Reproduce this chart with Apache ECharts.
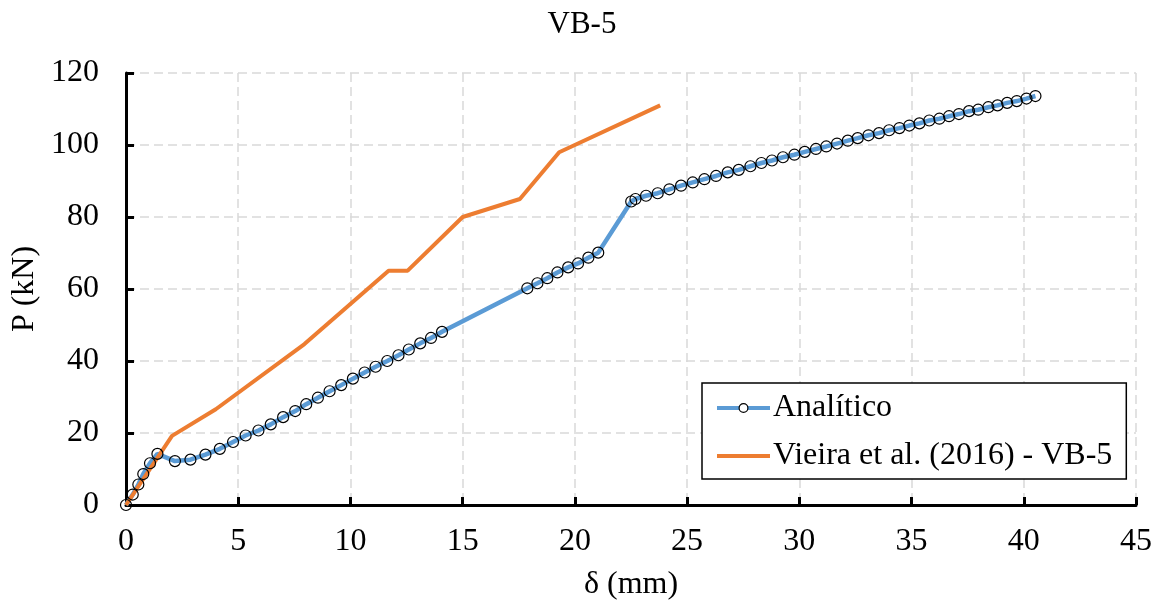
<!DOCTYPE html>
<html>
<head>
<meta charset="utf-8">
<title>VB-5</title>
<script src="https://cdn.jsdelivr.net/npm/echarts@6/dist/echarts.min.js"></script>
<style>
  html, body { margin: 0; padding: 0; background: #fff; }
  #chart { width: 1164px; height: 607px; }
</style>
</head>
<body>
<div id="chart"></div>
<script>
// Load–deflection curves for beam VB-5: δ (mm) vs P (kN)
const analiticoDelta = [
  0, 0.30, 0.55, 0.77, 1.07, 1.40, 2.18, 2.87, 3.54, 4.18, 4.77, 5.33, 5.90, 6.45,
  7.00, 7.54, 8.03, 8.55, 9.07, 9.59, 10.11, 10.63, 11.12, 11.64, 12.14, 12.60,
  13.11, 13.59, 14.08, 17.88, 18.33, 18.77, 19.22, 19.70, 20.14, 20.60, 21.04,
  22.51, 22.70, 23.17, 23.69, 24.21, 24.73, 25.25, 25.77, 26.29, 26.81, 27.30,
  27.82, 28.31, 28.78, 29.27, 29.78, 30.24, 30.74, 31.20, 31.68, 32.16, 32.60,
  33.08, 33.55, 34.00, 34.46, 34.90, 35.35, 35.79, 36.24, 36.67, 37.11, 37.56,
  37.97, 38.42, 38.83, 39.26, 39.69, 40.12, 40.52
];
const analiticoLoad = [
  0, 2.9, 5.7, 8.6, 11.6, 14.2, 12.2, 12.6, 14.0, 15.6, 17.5, 19.3, 20.7, 22.4,
  24.4, 26.1, 28.0, 29.8, 31.6, 33.3, 35.1, 36.8, 38.4, 40.0, 41.6, 43.2,
  44.9, 46.4, 48.1, 60.2, 61.6, 63.0, 64.6, 66.0, 67.1, 68.7, 70.1,
  84.3, 85.0, 85.9, 86.6, 87.7, 88.7, 89.6, 90.5, 91.4, 92.4, 93.1,
  94.1, 95.0, 95.7, 96.6, 97.3, 98.1, 98.9, 99.6, 100.4, 101.2, 101.9,
  102.7, 103.3, 104.1, 104.7, 105.4, 106.0, 106.8, 107.3, 108.0, 108.6, 109.4,
  109.8, 110.5, 111.0, 111.7, 112.2, 112.9, 113.6
];
const vieiraDelta = [0, 2.05, 4.0, 7.95, 11.7, 12.55, 15.0, 17.55, 19.3, 23.8];
const vieiraLoad  = [0, 19.2, 26.6, 44.7, 65.1, 65.1, 80.0, 85.0, 98.0, 111.0];

const seriesNames = ['Analítico', 'Vieira et al. (2016) - VB-5'];
const chartTitle = 'VB-5';
const xAxisName = 'δ (mm)';
const yAxisName = 'P (kN)';
const xRange = [0, 45, 5];
const yRange = [0, 120, 20];

const pairs = (xs, ys) => xs.map((x, i) => [x, ys[i]]);

const FONT = '"Liberation Serif", "Times New Roman", serif';
const BLUE = '#5B9BD5';
const ORANGE = '#ED7D31';
const TEXT_SIZE = 32;

const chart = echarts.init(document.getElementById('chart'), null, { renderer: 'canvas' });

const gridLine = { show: true, lineStyle: { color: '#d9d9d9', width: 1.5, type: [9, 5] } };
const axisLineStyle = { show: true, lineStyle: { color: '#000', width: 3 } };
const tickStyle = { show: true, inside: true, length: 8, lineStyle: { color: '#000', width: 3 } };

chart.setOption({
  animation: false,
  backgroundColor: '#fff',
  title: {
    text: chartTitle,
    left: 577,
    textAlign: 'center',
    top: 4,
    textStyle: { fontFamily: FONT, fontSize: 31, fontWeight: 'normal', color: '#000' }
  },
  grid: { left: 126, right: 28, top: 73, bottom: 102, containLabel: false },
  legend: {
    orient: 'vertical',
    left: 702,
    top: 383,
    padding: [9, 14, 7, 13],
    itemGap: 16,
    itemWidth: 53,
    itemHeight: 11,
    backgroundColor: '#fff',
    borderColor: '#000',
    borderWidth: 1.5,
    borderRadius: 0,
    lineStyle: { width: 4 },
    textStyle: { fontFamily: FONT, fontSize: TEXT_SIZE, color: '#000', lineHeight: 32, padding: [0, 0, 0, -2] },
    data: [
      { name: seriesNames[0], itemStyle: { color: '#fff', borderColor: '#000', borderWidth: 1.2 } },
      { name: seriesNames[1], itemStyle: { opacity: 0 } }
    ]
  },
  xAxis: {
    type: 'value',
    min: xRange[0], max: xRange[1], interval: xRange[2],
    name: xAxisName,
    nameLocation: 'middle',
    nameGap: 64,
    nameTextStyle: { fontFamily: FONT, fontSize: TEXT_SIZE, color: '#000' },
    axisLine: axisLineStyle,
    axisTick: tickStyle,
    axisLabel: { fontFamily: FONT, fontSize: TEXT_SIZE, color: '#000', margin: 21 },
    splitLine: gridLine
  },
  yAxis: {
    type: 'value',
    min: yRange[0], max: yRange[1], interval: yRange[2],
    name: yAxisName,
    nameLocation: 'middle',
    nameGap: 77,
    nameRotate: 90,
    nameTextStyle: { fontFamily: FONT, fontSize: TEXT_SIZE, color: '#000' },
    axisLine: axisLineStyle,
    axisTick: tickStyle,
    axisLabel: { fontFamily: FONT, fontSize: TEXT_SIZE, color: '#000', margin: 27 },
    splitLine: gridLine
  },
  series: [
    {
      name: seriesNames[0],
      type: 'line',
      data: pairs(analiticoDelta, analiticoLoad),
      symbol: 'circle',
      symbolSize: 11,
      showSymbol: true,
      showAllSymbol: true,
      color: BLUE,
      lineStyle: { color: BLUE, width: 4.5 },
      itemStyle: { color: 'rgba(255,255,255,0)', borderColor: '#000', borderWidth: 1.2 }
    },
    {
      name: seriesNames[1],
      type: 'line',
      data: pairs(vieiraDelta, vieiraLoad),
      symbol: 'none',
      color: ORANGE,
      lineStyle: { color: ORANGE, width: 4 },
      z: 3
    }
  ]
});
</script>
</body>
</html>
